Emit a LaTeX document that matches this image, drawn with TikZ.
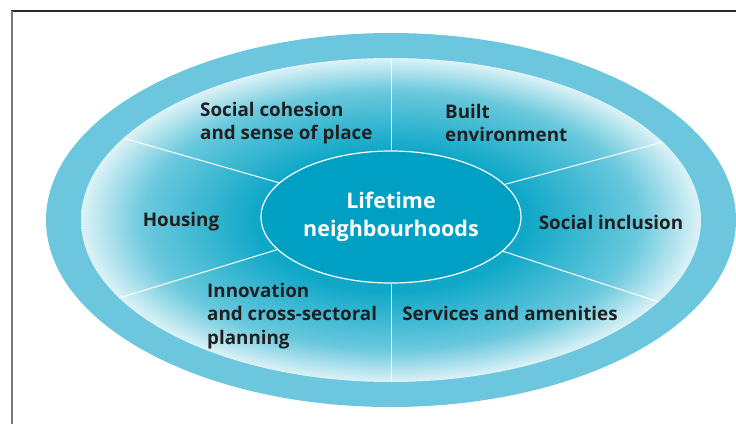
\documentclass[tikz,border=0pt]{standalone}
\usepackage{fontspec}
\setmainfont{Open Sans}
\usetikzlibrary{shapes.geometric}

\definecolor{ringblue}{HTML}{6CC6DD}
\definecolor{hubblue}{HTML}{00A0C4}
\definecolor{fieldblue}{HTML}{10A8C8}
\definecolor{inkdark}{HTML}{231F20}
\definecolor{framegray}{HTML}{7A7A7A}

\pgfdeclareradialshading{fieldshade}{\pgfpoint{0bp}{0bp}}{%
  color(0bp)=(fieldblue); color(11bp)=(fieldblue);
  color(20bp)=(fieldblue!62!white); color(26.5bp)=(white); color(50bp)=(white)}

\tikzset{
  theme/.style={font=\bfseries\fontsize{18.8}{23.5}\selectfont, text=inkdark,
    align=left, inner sep=0pt},
  spoke/.style={draw=white, line width=1pt}
}

\begin{document}
\begin{tikzpicture}[x=1pt,y=-1pt]
\useasboundingbox (0,0) rectangle (736,424);

% frame
\draw[line width=2.5pt, draw=inkdark!95] (11,11) -- (736,11) ;
\draw[line width=1.6pt, draw=framegray] (12,11) -- (12,424) ;

% rings
\fill[ringblue] (391,220) ellipse [x radius=345, y radius=187] ;
\node[ellipse, shade, shading=fieldshade, minimum width=620pt,
  minimum height=324pt, inner sep=0pt] (field) at (391,220) {} ;
\node[ellipse, fill=hubblue, draw=white, line width=1.2pt,
  minimum width=260pt, minimum height=132pt, inner sep=0pt,
  font=\bfseries\fontsize{21.5}{28}\selectfont, text=white, align=center]
  (hub) at (391,217) {Lifetime\\neighbourhoods} ;

% spokes
\foreach \a in {90,16.8,343.2,270,196.8,163.2}
  \draw[spoke] (hub.\a) -- (field.\a) ;

% themes
\node[theme, anchor=west] (cohesion) at (200,123) {Social cohesion\\and sense of place} ;
\node[theme, anchor=west] (built) at (445,123) {Built\\environment} ;
\node[theme] (housing) at (181,222) {Housing} ;
\node[theme] (inclusion) at (611,222) {Social inclusion} ;
\node[theme, anchor=west] (innovation) at (207,316) {Innovation\\and cross-sectoral\\planning} ;
\node[theme] (services) at (510,313) {Services and amenities} ;
\end{tikzpicture}
\end{document}
